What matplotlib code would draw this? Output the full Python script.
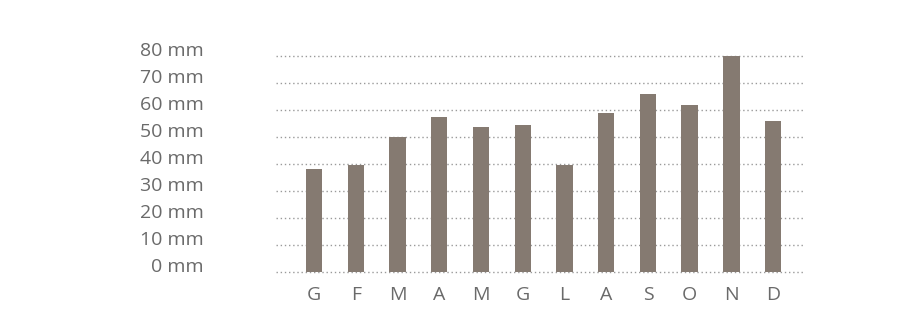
import matplotlib.pyplot as plt
import matplotlib.transforms as mtransforms

# monthly rainfall (mm), Italian month initials
months = ["G", "F", "M", "A", "M", "G", "L", "A", "S", "O", "N", "D"]
rain = [38.2, 39.6, 50.1, 57.5, 53.8, 54.3, 39.6, 59.0, 65.8, 61.7, 80.0, 55.9]
yticks = [0, 10, 20, 30, 40, 50, 60, 70, 80]
ytick_labels = [f"{v} mm" for v in yticks]

plt.rcParams['font.family'] = ['Open Sans', 'DejaVu Sans']

fig = plt.figure(figsize=(9.04, 3.36), dpi=100)
ax = fig.add_axes([276 / 904, 0.1815, (804 - 276) / 904, 0.6607])

x = list(range(len(months)))
ax.bar(x, rain, width=0.39, color="#857a71", zorder=2)

ax.set_xlim(-0.91, 11.74)
ax.set_ylim(-1, 81)

ax.set_yticks(yticks)
ax.set_yticklabels(ytick_labels, fontsize=14, color="#6a6a6a")
ax.set_xticks(x)
ax.set_xticklabels(months, fontsize=14, color="#6a6a6a")
ax.tick_params(axis="y", length=0, pad=52)
ax.tick_params(axis="x", length=0, pad=8)

# labels sit a bit above their gridlines
off = mtransforms.ScaledTranslation(0, 7 / 100, fig.dpi_scale_trans)
for lab in ax.get_yticklabels():
    lab.set_transform(lab.get_transform() + off)

ax.grid(axis="y", color="#9a9a9a", linestyle=(0, (1, 2)), linewidth=1, zorder=1)
ax.grid(axis="x", visible=False)
for s in ax.spines.values():
    s.set_visible(False)

fig.savefig("out.png", dpi=100, facecolor="white")
